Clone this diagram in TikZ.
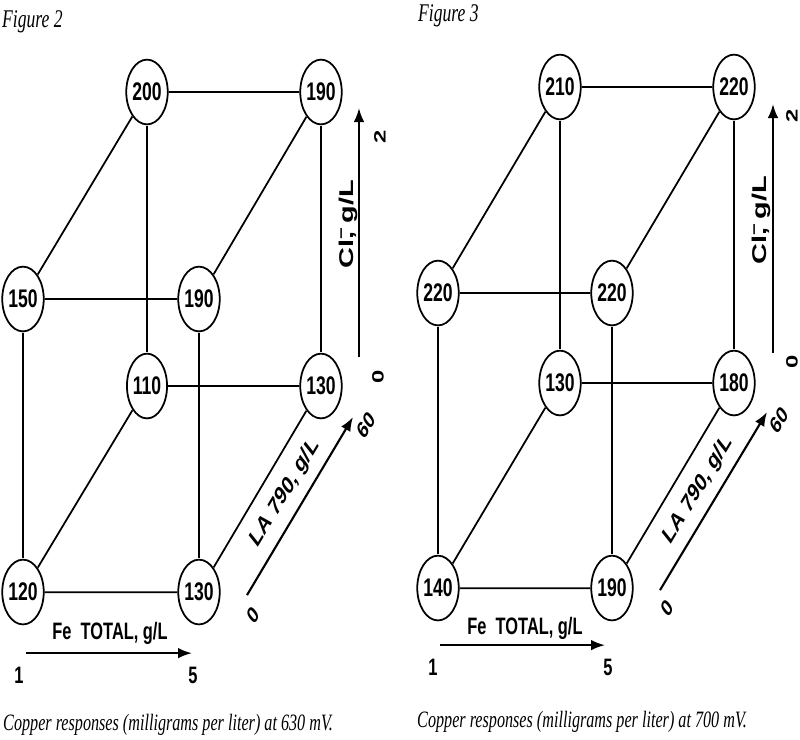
\documentclass[tikz,border=0pt]{standalone}
\usepackage{fontspec}
\setmainfont{Liberation Serif}
\newfontfamily\axisfont{Liberation Sans}
\usetikzlibrary{shapes.geometric,arrows.meta}
\tikzset{
  resp/.style={ellipse,draw,fill=white,line width=1.5pt,minimum width=1.2cm,minimum height=1.34cm,inner sep=0pt,font=\axisfont\bfseries\fontsize{15}{15}\selectfont},
  edge/.style={line width=1.5pt},
  axis/.style={line width=1.8pt,-{Latex[length=4.2mm,width=3.2mm]}},
  axlabel/.style={inner sep=0pt,font=\axisfont\bfseries\fontsize{14}{14}\selectfont},
  vlabel/.style={axlabel,rotate=90,font=\axisfont\bfseries\fontsize{17}{17}\selectfont},
  tick/.style={inner sep=0pt,font=\axisfont\bfseries\fontsize{14}{14}\selectfont},
  capt/.style={anchor=west,inner sep=0pt,font=\itshape\fontsize{13.8}{15}\selectfont}
}

\begin{document}
\begin{tikzpicture}[x=0.03cm,y=-0.02069cm,yscale=1.45,transform shape]
\path[use as bounding box] (0,0) rectangle (800,739);
% Figure 2, 630 mV
\node[capt,font=\itshape\fontsize{15}{15}\selectfont] (f2title) at (2,22) {Figure 2};
\node[resp] (p2btl) at (147,92) {200};
\node[resp] (p2btr) at (321,92) {190};
\node[resp] (p2ftl) at (23,299) {150};
\node[resp] (p2ftr) at (199,299) {190};
\node[resp] (p2bbl) at (147,386) {110};
\node[resp] (p2bbr) at (321,386) {130};
\node[resp] (p2fbl) at (23,592) {120};
\node[resp] (p2fbr) at (199,592) {130};
\draw[edge] (p2btl) -- (p2btr) (p2ftl) -- (p2ftr) (p2bbl) -- (p2bbr) (p2fbl) -- (p2fbr);
\draw[edge] (p2btl) -- (p2bbl) (p2btr) -- (p2bbr) (p2ftl) -- (p2fbl) (p2ftr) -- (p2fbr);
\draw[edge] (p2btl) -- (p2ftl) (p2btr) -- (p2ftr) (p2bbl) -- (p2fbl) (p2bbr) -- (p2fbr);
\coordinate (c2lo) at (359,357);
\coordinate (c2hi) at (359,108);
\draw[axis] (c2lo) -- (c2hi);
\node[vlabel] (c2lab) at (348,224) {Cl\rlap{\textsuperscript{−}}, g/L};
\node[tick,rotate=90] (c2max) at (380,137) {2};
\node[tick,rotate=90] (c2min) at (378,377) {0};
\coordinate (l2lo) at (247,595);
\coordinate (l2hi) at (353,417);
\draw[axis] (l2lo) -- (l2hi);
\node[axlabel,rotate=49,font=\axisfont\bfseries\fontsize{15}{15}\selectfont] (l2lab) at (285,493) {LA 790, g/L};
\node[tick,rotate=49] (l2max) at (366,425) {60};
\node[tick,rotate=49] (l2min) at (253,615) {0};
\coordinate (e2lo) at (26,653);
\coordinate (e2hi) at (192,653);
\draw[axis] (e2lo) -- (e2hi);
\node[axlabel] (e2lab) at (110,633) {Fe~ TOTAL, g/L};
\node[tick] (e2min) at (19,675) {1};
\node[tick] (e2max) at (193,675) {5};
\node[capt] (f2capt) at (3,725) {Copper responses (milligrams per liter) at 630 mV.};
% Figure 3, 700 mV
\node[capt,font=\itshape\fontsize{15}{15}\selectfont] (f3title) at (418,16) {Figure 3};
\node[resp] (p3btl) at (560,87) {210};
\node[resp] (p3btr) at (734,87) {220};
\node[resp] (p3ftl) at (438,293) {220};
\node[resp] (p3ftr) at (612,293) {220};
\node[resp] (p3bbl) at (560,383) {130};
\node[resp] (p3bbr) at (734,383) {180};
\node[resp] (p3fbl) at (438,588) {140};
\node[resp] (p3fbr) at (612,588) {190};
\draw[edge] (p3btl) -- (p3btr) (p3ftl) -- (p3ftr) (p3bbl) -- (p3bbr) (p3fbl) -- (p3fbr);
\draw[edge] (p3btl) -- (p3bbl) (p3btr) -- (p3bbr) (p3ftl) -- (p3fbl) (p3ftr) -- (p3fbr);
\draw[edge] (p3btl) -- (p3ftl) (p3btr) -- (p3ftr) (p3bbl) -- (p3fbl) (p3bbr) -- (p3fbr);
\coordinate (c3lo) at (773,353);
\coordinate (c3hi) at (773,104);
\draw[axis] (c3lo) -- (c3hi);
\node[vlabel] (c3lab) at (761,220) {Cl\rlap{\textsuperscript{−}}, g/L};
\node[tick,rotate=90] (c3max) at (792,116) {2};
\node[tick,rotate=90] (c3min) at (792,362) {0};
\coordinate (l3lo) at (660,590);
\coordinate (l3hi) at (767,412);
\draw[axis] (l3lo) -- (l3hi);
\node[axlabel,rotate=49,font=\axisfont\bfseries\fontsize{15}{15}\selectfont] (l3lab) at (698,490) {LA 790, g/L};
\node[tick,rotate=49] (l3max) at (779,420) {60};
\node[tick,rotate=49] (l3min) at (667,608) {0};
\coordinate (e3lo) at (440,645);
\coordinate (e3hi) at (605,645);
\draw[axis] (e3lo) -- (e3hi);
\node[axlabel] (e3lab) at (525,628) {Fe~ TOTAL, g/L};
\node[tick] (e3min) at (433,667) {1};
\node[tick] (e3max) at (608,667) {5};
\node[capt] (f3capt) at (417,722) {Copper responses (milligrams per liter) at 700 mV.};
\end{tikzpicture}
\end{document}
